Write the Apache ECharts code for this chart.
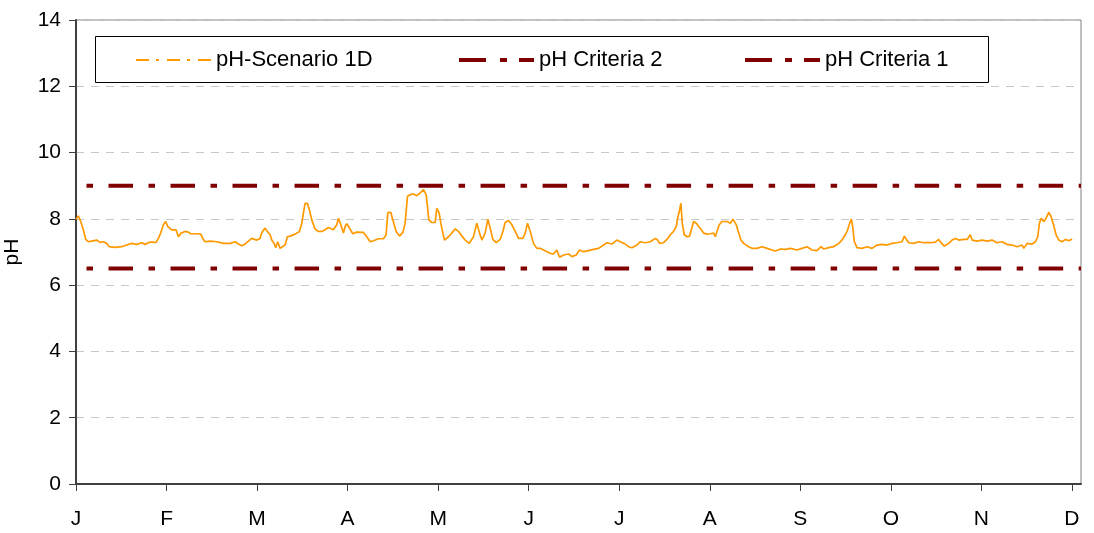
<!DOCTYPE html>
<html>
<head>
<meta charset="utf-8">
<title>pH</title>
<script src="https://cdn.jsdelivr.net/npm/echarts@6/dist/echarts.min.js"></script>
<style>
  html, body { margin: 0; padding: 0; background: #fff; }
  #chart { width: 1094px; height: 533px; }
</style>
</head>
<body>
<div id="chart"></div>
<script>
// Month tick letters (position 0 = first of January)
const months = ['J', 'F', 'M', 'A', 'M', 'J', 'J', 'A', 'S', 'O', 'N', 'D'];

// Water-quality criteria limits (pH units)
const criteriaUpper = 9.0;
const criteriaLower = 6.5;

// Simulated pH, scenario 1D: [time in months from start, pH]
const phScenario = [
  [0.000, 7.99], [0.026, 8.09], [0.052, 7.92], [0.081, 7.67], [0.107, 7.38], [0.136, 7.31],
  [0.173, 7.33], [0.228, 7.36], [0.265, 7.29], [0.302, 7.31], [0.339, 7.26], [0.368, 7.16],
  [0.431, 7.14], [0.505, 7.16], [0.560, 7.21], [0.615, 7.26], [0.670, 7.23], [0.726, 7.28],
  [0.762, 7.23], [0.818, 7.30], [0.884, 7.29], [0.910, 7.41], [0.935, 7.57], [0.965, 7.82],
  [0.991, 7.92], [1.013, 7.77], [1.057, 7.67], [1.105, 7.67], [1.131, 7.46], [1.160, 7.57],
  [1.204, 7.62], [1.241, 7.60], [1.267, 7.55], [1.333, 7.55], [1.378, 7.54], [1.400, 7.41],
  [1.425, 7.31], [1.481, 7.33], [1.554, 7.31], [1.628, 7.26], [1.702, 7.26], [1.757, 7.31],
  [1.794, 7.24], [1.831, 7.19], [1.867, 7.24], [1.904, 7.33], [1.941, 7.41], [1.996, 7.36],
  [2.033, 7.41], [2.052, 7.59], [2.088, 7.72], [2.114, 7.62], [2.144, 7.52], [2.162, 7.36],
  [2.188, 7.26], [2.206, 7.13], [2.228, 7.31], [2.254, 7.11], [2.280, 7.16], [2.309, 7.21],
  [2.335, 7.46], [2.365, 7.48], [2.420, 7.54], [2.468, 7.62], [2.494, 7.87], [2.512, 8.17],
  [2.530, 8.47], [2.556, 8.47], [2.578, 8.27], [2.604, 7.97], [2.641, 7.69], [2.678, 7.62],
  [2.715, 7.62], [2.751, 7.67], [2.788, 7.74], [2.843, 7.67], [2.880, 7.82], [2.899, 8.02],
  [2.925, 7.82], [2.954, 7.57], [2.972, 7.77], [2.991, 7.85], [3.028, 7.69], [3.057, 7.55],
  [3.101, 7.60], [3.175, 7.59], [3.212, 7.46], [3.249, 7.31], [3.285, 7.34], [3.341, 7.40],
  [3.396, 7.40], [3.425, 7.52], [3.444, 8.19], [3.477, 8.20], [3.499, 7.97], [3.536, 7.62],
  [3.573, 7.48], [3.610, 7.59], [3.635, 7.87], [3.661, 8.68], [3.691, 8.73], [3.727, 8.75],
  [3.764, 8.70], [3.801, 8.78], [3.838, 8.88], [3.867, 8.73], [3.882, 8.37], [3.897, 7.97],
  [3.930, 7.89], [3.967, 7.89], [3.985, 8.32], [4.011, 8.17], [4.029, 7.87], [4.052, 7.57],
  [4.070, 7.36], [4.114, 7.46], [4.151, 7.57], [4.188, 7.70], [4.225, 7.62], [4.262, 7.48],
  [4.298, 7.36], [4.343, 7.26], [4.390, 7.46], [4.427, 7.87], [4.457, 7.57], [4.483, 7.36],
  [4.519, 7.57], [4.549, 7.99], [4.575, 7.72], [4.604, 7.38], [4.641, 7.28], [4.685, 7.38],
  [4.715, 7.62], [4.740, 7.89], [4.777, 7.95], [4.814, 7.82], [4.851, 7.62], [4.888, 7.41],
  [4.935, 7.41], [4.961, 7.57], [4.987, 7.87], [5.017, 7.62], [5.053, 7.26], [5.090, 7.11],
  [5.127, 7.11], [5.164, 7.06], [5.201, 7.01], [5.238, 6.96], [5.274, 6.94], [5.311, 7.06],
  [5.341, 6.84], [5.385, 6.91], [5.440, 6.94], [5.477, 6.86], [5.525, 6.91], [5.562, 7.06],
  [5.606, 7.01], [5.661, 7.04], [5.716, 7.08], [5.772, 7.11], [5.827, 7.21], [5.864, 7.28],
  [5.919, 7.24], [5.974, 7.36], [6.011, 7.31], [6.066, 7.24], [6.103, 7.16], [6.140, 7.13],
  [6.195, 7.21], [6.232, 7.31], [6.287, 7.28], [6.343, 7.31], [6.398, 7.41], [6.424, 7.36],
  [6.446, 7.26], [6.490, 7.28], [6.527, 7.38], [6.564, 7.52], [6.600, 7.62], [6.630, 7.77],
  [6.645, 8.02], [6.663, 8.22], [6.681, 8.47], [6.696, 7.87], [6.718, 7.52], [6.748, 7.46],
  [6.777, 7.48], [6.796, 7.67], [6.821, 7.92], [6.851, 7.87], [6.877, 7.77], [6.906, 7.67],
  [6.932, 7.57], [6.969, 7.54], [7.006, 7.55], [7.042, 7.57], [7.061, 7.46], [7.079, 7.62],
  [7.105, 7.82], [7.135, 7.92], [7.190, 7.92], [7.227, 7.87], [7.256, 7.99], [7.274, 8.05],
  [7.293, 7.82], [7.319, 7.57], [7.344, 7.36], [7.374, 7.26], [7.429, 7.16], [7.466, 7.11],
  [7.521, 7.11], [7.576, 7.16], [7.632, 7.11], [7.687, 7.06], [7.724, 7.03], [7.779, 7.09],
  [7.834, 7.08], [7.890, 7.11], [7.963, 7.06], [8.018, 7.11], [8.074, 7.16], [8.129, 7.06],
  [8.184, 7.04], [8.228, 7.16], [8.258, 7.09], [8.313, 7.13], [8.368, 7.16], [8.424, 7.26],
  [8.460, 7.36], [8.497, 7.52], [8.523, 7.67], [8.545, 7.87], [8.564, 7.99], [8.578, 7.77],
  [8.597, 7.31], [8.626, 7.13], [8.681, 7.11], [8.737, 7.16], [8.792, 7.11], [8.847, 7.21],
  [8.902, 7.23], [8.958, 7.21], [9.013, 7.26], [9.068, 7.28], [9.123, 7.31], [9.149, 7.48],
  [9.171, 7.38], [9.197, 7.28], [9.252, 7.26], [9.308, 7.31], [9.363, 7.28], [9.436, 7.28],
  [9.492, 7.30], [9.528, 7.38], [9.554, 7.28], [9.591, 7.18], [9.639, 7.26], [9.676, 7.36],
  [9.713, 7.41], [9.750, 7.36], [9.805, 7.38], [9.842, 7.38], [9.878, 7.52], [9.897, 7.36],
  [9.952, 7.33], [10.007, 7.36], [10.063, 7.33], [10.118, 7.36], [10.173, 7.28], [10.228, 7.31],
  [10.284, 7.23], [10.339, 7.21], [10.394, 7.16], [10.449, 7.21], [10.468, 7.11], [10.505, 7.26],
  [10.560, 7.24], [10.597, 7.31], [10.622, 7.46], [10.641, 7.87], [10.659, 8.02], [10.689, 7.92],
  [10.715, 8.02], [10.744, 8.20], [10.770, 8.07], [10.796, 7.82], [10.825, 7.52], [10.855, 7.36],
  [10.891, 7.31], [10.928, 7.38], [10.965, 7.34], [11.002, 7.39]
];

// Horizontal extent of the time axis, in months
const axisEndMonth = 11.1;

const FONT = 'Liberation Sans, Arial, sans-serif';
// Long-dash-dot pattern; leading zero-length dash lets the pattern open on a gap
const criteriaDash = [0.01, 10.5, 6.5, 15.5, 24.5, 5];

const chart = echarts.init(document.getElementById('chart'), null, { renderer: 'canvas' });

const legendBase = {
  orient: 'horizontal',
  top: 48,
  padding: 0,
  itemWidth: 75,
  itemHeight: 14,
  selectedMode: false,
  textStyle: { fontFamily: FONT, fontSize: 22, color: '#000', lineHeight: 24 }
};

// Hide the marker that a line legend item draws in its middle
const noMarker = { opacity: 0, borderWidth: 0 };

chart.setOption({
  animation: false,
  backgroundColor: '#fff',
  grid: {
    left: 76, right: 13, top: 20, bottom: 49,
    outerBoundsMode: 'none',
    containLabel: false,
    show: true, borderColor: '#808080', borderWidth: 1, backgroundColor: '#fff'
  },
  graphic: [{
    type: 'rect',
    z: 3,
    shape: { x: 95.5, y: 36.5, width: 893, height: 46 },
    style: { fill: '#fff', stroke: '#000', lineWidth: 1 }
  }],
  legend: [
    Object.assign({}, legendBase, {
      left: 135,
      data: [{ name: 'pH-Scenario 1D', itemStyle: noMarker, lineStyle: { type: [13, 7, 3, 8], width: 2 } }]
    }),
    Object.assign({}, legendBase, {
      left: 457,
      data: [{ name: 'pH Criteria 2', itemStyle: noMarker, lineStyle: { type: [27, 14, 7, 12], width: 4 } }]
    }),
    Object.assign({}, legendBase, {
      left: 743,
      data: [{ name: 'pH Criteria 1', itemStyle: noMarker, lineStyle: { type: [27, 13, 7, 12], width: 4 } }]
    })
  ],
  xAxis: {
    type: 'value',
    min: 0,
    max: axisEndMonth,
    interval: 1,
    axisLine: { show: true, onZero: false, lineStyle: { color: '#404040', width: 2 } },
    axisTick: {
      show: true, length: 7, inside: false,
      customValues: months.map((_, i) => i),
      lineStyle: { color: '#404040', width: 1 }
    },
    axisLabel: {
      customValues: months.map((_, i) => i),
      formatter: (v) => months[Math.round(v)] || '',
      margin: 25,
      fontFamily: FONT, fontSize: 21, color: '#000'
    },
    splitLine: { show: false }
  },
  yAxis: {
    type: 'value',
    min: 0,
    max: 14,
    interval: 2,
    name: 'pH',
    nameLocation: 'middle',
    nameGap: 53,
    nameTextStyle: { fontFamily: FONT, fontSize: 21, color: '#000' },
    axisLine: { show: true, lineStyle: { color: '#404040', width: 2 } },
    axisTick: { show: true, length: 7, inside: false, lineStyle: { color: '#404040', width: 1 } },
    axisLabel: { margin: 15, fontFamily: FONT, fontSize: 21, color: '#000' },
    splitLine: { show: true, lineStyle: { color: '#c8c8c8', width: 1, type: [8, 7] } }
  },
  series: [
    {
      name: 'pH-Scenario 1D',
      type: 'line',
      data: phScenario,
      symbol: 'none',
      showSymbol: false,
      z: 4,
      lineStyle: { color: '#FF9900', width: 1.7 },
      itemStyle: { color: '#FF9900' }
    },
    {
      name: 'pH Criteria 2',
      type: 'line',
      data: [[0, criteriaUpper], [axisEndMonth, criteriaUpper]],
      symbol: 'none',
      showSymbol: false,
      lineStyle: { color: '#800000', width: 4, type: criteriaDash, cap: 'butt' },
      itemStyle: { color: '#800000' }
    },
    {
      name: 'pH Criteria 1',
      type: 'line',
      data: [[0, criteriaLower], [axisEndMonth, criteriaLower]],
      symbol: 'none',
      showSymbol: false,
      lineStyle: { color: '#800000', width: 4, type: criteriaDash, cap: 'butt' },
      itemStyle: { color: '#800000' }
    }
  ]
});
</script>
</body>
</html>
